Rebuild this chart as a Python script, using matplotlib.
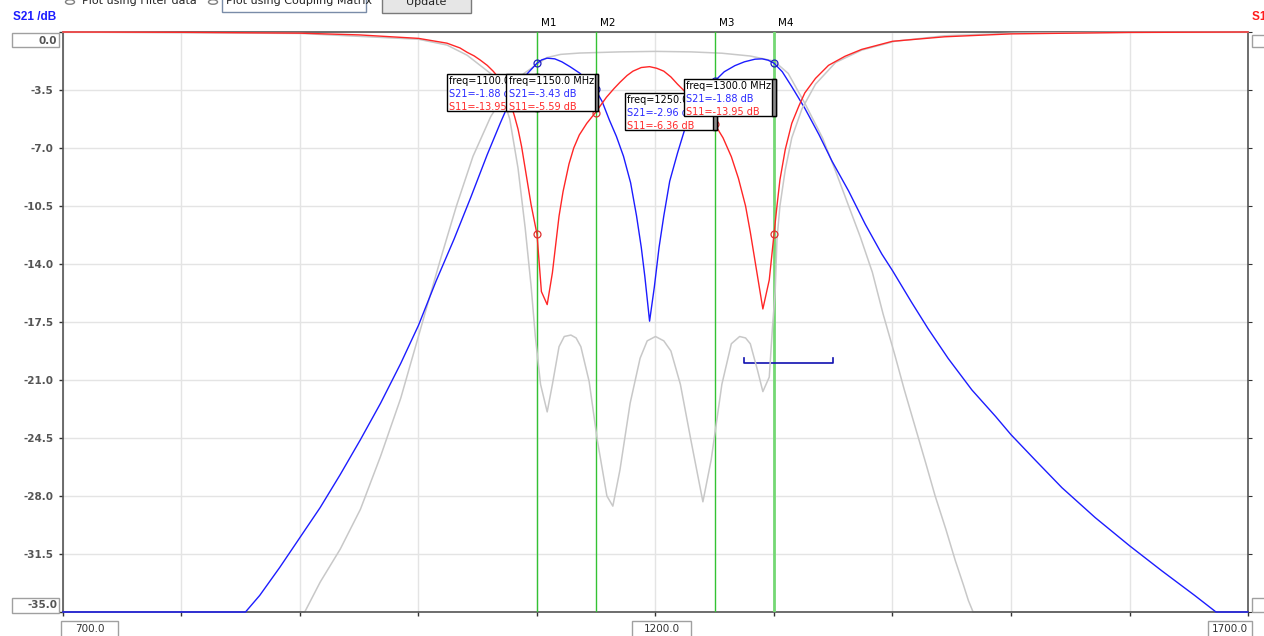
import matplotlib
matplotlib.use('Agg')
import matplotlib.pyplot as plt
from matplotlib.patches import Rectangle, Circle
import numpy as np

# --- data ------------------------------------------------------------------
# measured S21 (left axis, dB)
s21_f = [700, 854, 866, 883, 900, 917, 934, 951, 968, 985, 1000, 1015, 1030,
         1044, 1058, 1069, 1080, 1092, 1100, 1104, 1108.6, 1115, 1121, 1128,
         1136, 1142, 1149, 1155, 1161, 1167, 1173, 1179, 1184, 1188, 1191,
         1195, 1199, 1203, 1207, 1212, 1218.6, 1225, 1233, 1241, 1250, 1258,
         1267, 1275, 1284, 1290, 1295, 1300, 1307, 1315, 1326, 1338, 1349,
         1363, 1377, 1391, 1400, 1416, 1430, 1447, 1467, 1487, 1500, 1520,
         1543, 1571, 1600, 1627, 1655, 1673, 1700]
s21_db = [-35, -35, -34.0, -32.3, -30.5, -28.7, -26.7, -24.6, -22.4, -20.0,
          -17.7, -15.0, -12.5, -10.0, -7.4, -5.5, -3.7, -2.5, -1.88, -1.68,
          -1.58, -1.62, -1.8, -2.1, -2.48, -2.9, -3.43, -4.2, -5.3, -6.3, -7.5,
          -9.1, -11.1, -13.0, -14.75, -17.45, -15.4, -13.0, -11.1, -9.0, -7.3,
          -5.8, -4.6, -3.7, -2.96, -2.4, -2.03, -1.8, -1.64, -1.62, -1.7,
          -1.88, -2.4, -3.3, -4.6, -6.2, -7.8, -9.6, -11.6, -13.4, -14.4,
          -16.3, -17.9, -19.7, -21.6, -23.2, -24.3, -25.8, -27.5, -29.3,
          -31.0, -32.5, -34.0, -35, -35]

# measured S11 (right axis, dB)
s11_f = [700, 800, 900, 950, 1000, 1024, 1035, 1041, 1047, 1052, 1058, 1063,
         1068, 1072, 1075, 1078, 1081, 1084, 1087, 1090, 1095, 1100, 1103.7,
         1108.6, 1113, 1118.6, 1122, 1127, 1131, 1135.7, 1142, 1149, 1158.6,
         1165, 1170, 1176, 1181, 1188, 1195, 1201, 1207, 1213, 1218.6, 1226,
         1233, 1241, 1250, 1257, 1264, 1270, 1276, 1280, 1284, 1290.6, 1296,
         1300, 1302.5, 1305, 1309.5, 1315, 1321, 1326, 1335, 1346, 1360, 1374,
         1400, 1444, 1500, 1600, 1700]
s11_db = [0, -0.02, -0.08, -0.2, -0.44, -0.77, -1.1, -1.4, -1.65, -1.93, -2.3,
          -2.7, -3.2, -3.7, -4.3, -5.0, -5.8, -6.7, -7.9, -9.4, -11.9, -13.95,
          -17.9, -18.8, -16.6, -12.7, -11.0, -9.1, -8.0, -7.1, -6.3, -5.59,
          -4.5, -3.9, -3.47, -3.0, -2.7, -2.45, -2.39, -2.5, -2.7, -3.1, -3.6,
          -4.2, -4.76, -5.5, -6.36, -7.3, -8.6, -10.1, -12.0, -13.8, -15.8,
          -19.1, -17.1, -13.95, -12.0, -10.2, -8.1, -6.3, -5.1, -4.2, -3.2,
          -2.3, -1.67, -1.2, -0.64, -0.33, -0.13, -0.03, 0]

# ideal (coupling matrix) S21, left axis
ref21_f = [700, 904, 917, 934, 951, 968, 985, 1001, 1018, 1032, 1046, 1061,
           1075, 1089, 1100, 1108, 1120, 1136, 1170, 1200, 1230, 1256, 1280,
           1300, 1312, 1326, 1341, 1352, 1363, 1373, 1383, 1392, 1402, 1410,
           1419, 1428, 1436, 1445, 1453, 1460, 1464, 1468, 1700]
ref21_db = [-35, -35, -33.2, -31.2, -28.8, -25.6, -22.1, -18.1, -13.85, -10.5,
            -7.5, -5.1, -3.5, -2.5, -1.96, -1.55, -1.35, -1.27, -1.2, -1.17,
            -1.2, -1.28, -1.45, -1.75, -2.5, -4.3, -6.4, -8.4, -10.5, -12.4,
            -14.5, -17.0, -19.5, -21.6, -23.8, -26.0, -28.0, -30.0, -31.9,
            -33.4, -34.3, -35, -35]

# ideal (coupling matrix) S11, right axis
ref11_f = [700, 900, 1000, 1024, 1041, 1052, 1063, 1070, 1077, 1084, 1090,
           1095, 1098.6, 1103, 1108.6, 1113, 1118.6, 1123, 1128.6, 1133, 1137,
           1144, 1151, 1159, 1164, 1170, 1178.6, 1187, 1193, 1200, 1207, 1213,
           1221, 1230, 1240, 1247, 1256, 1264, 1271, 1276, 1280, 1286, 1290.6,
           1296, 1298.6, 1301, 1302.5, 1305, 1309.5, 1315, 1323.6, 1335, 1352,
           1374, 1402, 1444, 1503, 1600, 1700]
ref11_db = [0, -0.1, -0.5, -0.9, -1.6, -2.3, -3.0, -4.2, -6.0, -9.4, -13.5,
            -17.5, -21.0, -24.3, -26.2, -24.3, -21.7, -21.0, -20.9, -21.1,
            -21.7, -24.1, -28.2, -32.0, -32.7, -30.2, -25.6, -22.5, -21.3,
            -21.0, -21.3, -22.0, -24.3, -28.2, -32.4, -29.5, -24.3, -21.5,
            -21.0, -21.1, -21.5, -23.3, -24.8, -23.8, -20.5, -17.9, -14.3,
            -12.0, -9.5, -7.3, -5.3, -3.6, -2.1, -1.25, -0.64, -0.26, -0.08,
            -0.02, 0]

# markers
mk_names = ['M1', 'M2', 'M3', 'M4']
mk_f = [1100.0, 1150.0, 1250.0, 1300.0]
mk_s21 = [-1.88, -3.43, -2.96, -1.88]
mk_s11 = [-13.95, -5.59, -6.36, -13.95]

# spec line (left axis)
spec_f = [1275, 1350]
spec_db = -20.0

x_box_labels = [700, 1200, 1700]

# --- figure -----------------------------------------------------------------
W, H = 1264, 636
fig = plt.figure(figsize=(W / 100, H / 100), dpi=100)
fig.patch.set_facecolor('white')
ax_l, ax_r, ax_t, ax_b = 63, 1248, 32, 612
ax = fig.add_axes([ax_l / W, 1 - ax_b / H, (ax_r - ax_l) / W, (ax_b - ax_t) / H])
ax.set_xlim(700, 1700)
ax.set_ylim(-35, 0)
ax.set_xticks(np.arange(700, 1701, 100))
yt = np.arange(-35, 0.01, 3.5)
ax.set_yticks(yt)
ax.set_xticklabels([])
ax.set_yticklabels(['' if (abs(v) < 0.01 or abs(v + 35) < 0.01) else f'{v:.1f}' for v in yt])
for lbl in ax.get_yticklabels():
    lbl.set_fontweight('bold')
ax.tick_params(axis='both', direction='out', length=3, width=1, color='#333333',
               labelsize=7.5, labelcolor='#555555', pad=4)
ax.grid(True, color='#e4e4e4', lw=1)
ax.set_axisbelow(True)
for side in ['left', 'right', 'top', 'bottom']:
    ax.spines[side].set_color('#555555')
    ax.spines[side].set_linewidth(1.2)

ax2 = ax.twinx()
ax2.set_ylim(-40, 0)
ax2.set_yticks(np.arange(-40, 0.01, 4))
ax2.set_yticklabels([])
ax2.tick_params(axis='y', direction='out', length=3, color='#333333')
for side in ['left', 'right', 'top', 'bottom']:
    ax2.spines[side].set_visible(False)

grey = '#c8c8c8'
blue = '#1c1cff'
red = '#ff2626'

ax.plot(ref21_f, ref21_db, color=grey, lw=1.1, zorder=2, clip_on=False)
for f in mk_f:
    ax.axvline(f, color='#33c233' if f != mk_f[-1] else '#74d874',
               lw=1 if f != mk_f[-1] else 2, zorder=3)
ax.plot(s21_f, s21_db, color=blue, lw=1, zorder=4, clip_on=False)
ax.plot([spec_f[0], spec_f[0], spec_f[1], spec_f[1]],
        [spec_db + 0.35, spec_db, spec_db, spec_db + 0.35], color='#1010b0', lw=1.2, zorder=4)

ax2.plot(ref11_f, ref11_db, color=grey, lw=1.1, zorder=2, clip_on=False)
ax2.plot(s11_f, s11_db, color=red, lw=1, zorder=3, clip_on=False)

# marker points
ax2.plot(mk_f, mk_s21, 'o', ms=5, mfc='none', mec='#2020c0', mew=0.9, zorder=5,
         transform=ax.transData)
ax2.plot(mk_f, mk_s11, 'o', ms=5, mfc='none', mec='#e03030', mew=0.9, zorder=5)

# marker names above the plot
for name, f in zip(mk_names, mk_f):
    ax.annotate(name, xy=(f, 0), xytext=(3, 3), textcoords='offset points',
                fontsize=7.5, ha='left', va='bottom', color='black')

# marker read-out boxes (drawn in the left axis units)
ppm = (ax_r - ax_l) / 1000.0
ppd = (ax_b - ax_t) / 35.0
box_top = [-2.53, -2.53, -3.68, -2.84]
for i, (f, a, b) in enumerate(zip(mk_f, mk_s21, mk_s11)):
    right = f + 2 / ppm
    left = right - 92 / ppm
    top = box_top[i]
    hgt = 37 / ppd
    z = 10 + 3 * i
    ax2.add_patch(Rectangle((left, top - hgt), right - left, hgt, transform=ax.transData,
                            facecolor='white', edgecolor='black', lw=1, zorder=z,
                            clip_on=False))
    ax2.add_patch(Rectangle((right - 3.5 / ppm, top - hgt), 3.5 / ppm, hgt,
                            transform=ax.transData, facecolor='#8c8c8c',
                            edgecolor='black', lw=1, zorder=z, clip_on=False))
    lines = [(f'freq={f:.1f} MHz', 'black'), (f'S21={a:.2f} dB', '#2a2aff'),
             (f'S11={b:.2f} dB', '#ff2a2a')]
    for k, (txt, col) in enumerate(lines):
        ax2.text(left + 2.5 / ppm, top - (7 + 13 * k) / ppd, txt, color=col,
                 fontsize=7, va='center', ha='left', transform=ax.transData,
                 zorder=z + 1)


# --- UI decorations ------------------------------------------------------------
def ui_box(x0, y0, x1, y1, face='white', edge='#a0a0a0'):
    fig.add_artist(Rectangle((x0 / W, 1 - y1 / H), (x1 - x0) / W, (y1 - y0) / H,
                             transform=fig.transFigure, facecolor=face,
                             edgecolor=edge, lw=1))


ui_box(12, 33, 59, 47)
fig.text(57 / W, 1 - 40.5 / H, '0.0', ha='right', va='center', fontsize=7.5,
         fontweight='bold', color='#555555')
ui_box(12, 598, 59, 613)
fig.text(57 / W, 1 - 605.5 / H, '-35.0', ha='right', va='center', fontsize=7.5,
         fontweight='bold', color='#555555')
ui_box(1252, 35, 1270, 47)
ui_box(1252, 598, 1270, 612)

x_box_px = [(61, 118), (632, 691), (1208, 1252)]
for v, (x0, x1) in zip(x_box_labels, x_box_px):
    ui_box(x0, 621, x1, 640)
    fig.text((x0 + x1) / 2 / W, 1 - 629 / H, f'{v:.1f}', ha='center', va='center',
             fontsize=7.5, color='#333333')

fig.text(13 / W, 1 - 17 / H, 'S21 /dB', color='#1c1cff', fontsize=8.5,
         family='Liberation Sans', fontweight='bold', va='center', ha='left')
fig.text(1252 / W, 1 - 17 / H, 'S11 /dB', color='#ff1c1c', fontsize=8.5,
         family='Liberation Sans', fontweight='bold', va='center', ha='left')

# clipped controls at the very top
fig.add_artist(Circle((70 / W, 1 - 2 / H), 4.5 / W, transform=fig.transFigure,
                      facecolor='white', edgecolor='#808080', lw=1))
fig.text(82 / W, 1 - 1 / H, 'Plot using Filter data', fontsize=8, va='center',
         ha='left', color='#222222')
fig.add_artist(Circle((213 / W, 1 - 2 / H), 4.5 / W, transform=fig.transFigure,
                      facecolor='white', edgecolor='#808080', lw=1))
ui_box(222, -8, 366, 12, edge='#7a8ca8')
fig.text(226 / W, 1 - 1 / H, 'Plot using Coupling Matrix', fontsize=8, va='center',
         ha='left', color='#222222')
ui_box(382, -8, 471, 13, face='#e6e6e6', edge='#7a7a7a')
fig.text(426 / W, 1 - 2 / H, 'Update', fontsize=8, va='center', ha='center',
         color='#222222')

fig.savefig('out.png', dpi=100, facecolor='white')
